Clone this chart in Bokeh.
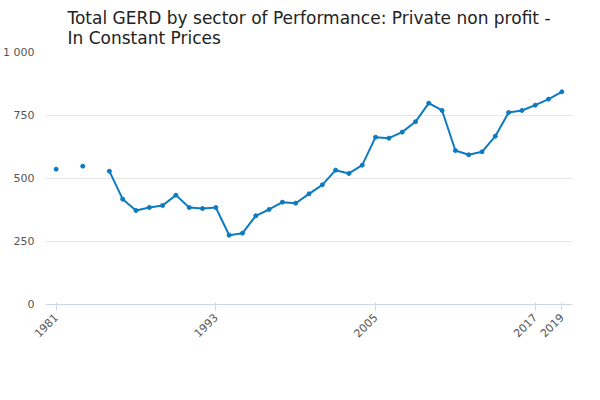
import numpy as np
from bokeh.plotting import figure
from bokeh.models import Legend, LegendItem, Label, FixedTicker, CustomJSTickFormatter, ColumnDataSource
from bokeh.embed import file_html
from bokeh.resources import INLINE

years = list(range(1981, 2020))
values = [537, np.nan, 549, np.nan, 529, 418, 373, 385, 393, 434, 385, 381, 385, 275, 283, 352, 377, 406, 402, 439,
          475, 533, 520, 553, 664, 660, 684, 725, 799, 770, 611, 594, 606, 668, 762, 770, 791, 815, 844]
x_ticks = [1981, 1993, 2005, 2017, 2019]
y_ticks = [0, 250, 500, 750, 1000]
series_name = "Total GERD by sector of Performance: Private non profit - In Constant Prices"
color = "#0c7bc0"

src = ColumnDataSource(dict(x=years, y=values))
p = figure(width=584, height=384, output_backend="svg", toolbar_location=None,
           x_range=(1980.2, 2019.8), y_range=(0, 1000),
           min_border_left=40, min_border_right=12, min_border_bottom=80)
p.title.text = "Total GERD by sector of Performance: Private non profit -\nIn Constant Prices"
p.title.align = "center"
p.title.text_font = "DejaVu Sans"
p.title.text_font_size = "17px"
p.title.text_font_style = "normal"
p.title.text_color = "#222222"

l = p.line("x", "y", source=src, color=color, line_width=2)
c = p.scatter("x", "y", source=src, color=color, size=4)

p.xaxis.ticker = FixedTicker(ticks=x_ticks)
p.xaxis.major_label_orientation = 0.785
p.yaxis.ticker = FixedTicker(ticks=y_ticks)
p.yaxis.formatter = CustomJSTickFormatter(code="return tick.toString().replace(/\\B(?=(\\d{3})+(?!\\d))/g, ' ');")
for ax in (p.xaxis, p.yaxis):
    ax.major_label_text_font = "DejaVu Sans"
    ax.major_label_text_font_size = "11px"
    ax.major_label_text_color = "#555555"
p.yaxis.axis_line_color = None
p.yaxis.major_tick_line_color = None
p.yaxis.minor_tick_line_color = None
p.xaxis.minor_tick_line_color = None
p.xaxis.axis_line_color = "#ccd6eb"
p.xaxis.major_tick_line_color = "#ccd6eb"
p.xgrid.grid_line_color = None
p.ygrid.grid_line_color = "#e6e6e6"
p.outline_line_color = None

legend = Legend(items=[LegendItem(label=series_name, renderers=[l, c])], orientation="horizontal",
                location=(-42, -62), border_line_color=None, background_fill_alpha=0,
                label_text_font="DejaVu Sans", label_text_font_size="13px", label_text_font_style="bold",
                label_text_color="#333333", padding=0, margin=0, glyph_width=20, label_standoff=4)
p.add_layout(legend)
p.add_layout(Label(x=530, y=-80, x_units="screen", y_units="screen", text="Source:",
                   text_font="DejaVu Sans", text_font_size="12px", text_color="#666666",
                   text_align="right"))

open("out.html", "w").write(file_html(p, INLINE))
